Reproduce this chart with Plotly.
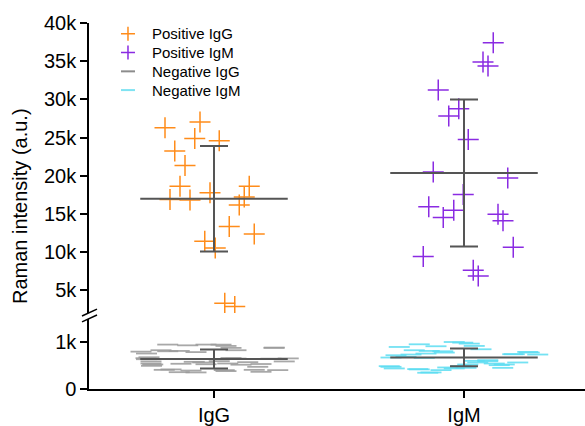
import plotly.graph_objects as go

# ---------------- data ----------------
categories = ["IgG", "IgM"]

pos_igg_vals = [26262, 27040, 24876, 24578, 23230, 21338, 18616, 17748, 18616, 16879,
                16802, 17190, 16154, 13341, 12343, 11397, 10529, 3271, 2844]
pos_igg_jit = [-0.196, -0.056, -0.077, 0.021, -0.157, -0.116, -0.136, -0.016, 0.141, -0.176,
               -0.096, 0.121, 0.101, 0.061, 0.161, -0.037, 0.005, 0.043, 0.083]

pos_igm_vals = [37408, 34894, 34375, 31226, 28764, 27818, 24746, 20469, 19692, 17527,
                15933, 15454, 14508, 14935, 14080, 10620, 9414, 7600, 6861]
pos_igm_jit = [0.117, 0.076, 0.096, -0.103, -0.021, -0.061, 0.017, -0.123, 0.175, -0.003,
               -0.141, -0.041, -0.083, 0.136, 0.156, 0.197, -0.163, 0.037, 0.057]

neg_igg_vals = [951, 935, 951, 922, 887, 880, 950, 880,
                800, 830, 815, 790, 830, 760, 808,
                660, 680, 665, 650, 655, 638, 652,
                590, 582, 596, 575, 590, 546, 568,
                525, 540, 530, 520, 535, 496, 546, 475,
                410, 395, 404, 410, 404, 419, 383, 368, 360, 355]
neg_igg_jit = [-0.185, -0.105, -0.032, 0.048, 0.241, 0.068, 0.028, 0.24,
               -0.292, -0.212, -0.139, -0.072, 0.088, -0.27, -0.185,
               -0.272, -0.26, 0.068, 0.228, 0.297, -0.27, 0.088,
               -0.252, -0.079, 0.021, 0.135, 0.281, 0.055, -0.045,
               -0.245, -0.132, -0.032, 0.108, 0.188, -0.25, -0.252, 0.175,
               -0.199, -0.092, 0.041, 0.161, 0.255, -0.172, 0.048, 0.188, -0.139, -0.072]

neg_igm_vals = [900, 957, 915, 1006, 972, 922, 993,
                830, 815, 808, 851,
                723, 738, 759, 780, 745, 780, 738, 794, 745,
                674, 688, 666,
                475, 440, 419, 355, 404, 440, 453, 348, 426, 489, 461, 489,
                568, 596, 546, 525, 568, 453, 525, 603, 617, 511]
neg_igm_jit = [-0.259, -0.179, -0.112, -0.039, 0.021, 0.041, -0.005,
               -0.199, -0.139, -0.085, 0.068,
               -0.272, -0.212, -0.152, -0.079, 0.201, 0.261, 0.295, 0.255, 0.195,
               -0.292, -0.232, -0.159,
               -0.292, -0.279, -0.179, -0.132, -0.092, -0.039, 0.008, -0.145, -0.185, -0.299, -0.065, -0.012,
               0.055, 0.095, 0.121, 0.161, 0.215, 0.155, 0.015, 0.041, 0.095, 0.141]

# mean and SD per group
pos_mean = [16970, 20340]
pos_sd = [6908, 9630]
neg_mean = [642, 677]
neg_sd = [202, 190]

top_ticks = [5000, 10000, 15000, 20000, 25000, 30000, 35000, 40000]
top_tick_text = ["5k", "10k", "15k", "20k", "25k", "30k", "35k", "40k"]
bot_ticks = [0, 1000]
bot_tick_text = ["0", "1k"]

legend_names = ["Positive IgG", "Positive IgM", "Negative IgG", "Negative IgM"]

# ---------------- styles ----------------
C_ORANGE = "#FF8C1A"
C_PURPLE = "#8A2BE2"
C_GRAY = "#9A9A9A"
C_CYAN = "#5CDDF2"
C_BAR = "#555555"
FONT = "Liberation Sans, Arial, sans-serif"

fig = go.Figure()


def pos_trace(ci, vals, jit, color, name):
    return go.Scatter(
        x=[ci + j for j in jit], y=vals, xaxis="x", yaxis="y",
        mode="markers", name=name, showlegend=False,
        marker=dict(symbol="cross-thin", size=15, color=color,
                    line=dict(color=color, width=1.5)),
    )


def neg_trace(ci, vals, jit, color, name):
    return go.Scatter(
        x=[ci + j for j in jit], y=vals, xaxis="x", yaxis="y2",
        mode="markers", name=name, showlegend=False,
        marker=dict(symbol="line-ew", size=15, color=color, opacity=0.85,
                    line=dict(color=color, width=1.8)),
    )


fig.add_trace(pos_trace(0, pos_igg_vals, pos_igg_jit, C_ORANGE, legend_names[0]))
fig.add_trace(pos_trace(1, pos_igm_vals, pos_igm_jit, C_PURPLE, legend_names[1]))
fig.add_trace(neg_trace(0, neg_igg_vals, neg_igg_jit, C_GRAY, legend_names[2]))
fig.add_trace(neg_trace(1, neg_igm_vals, neg_igm_jit, C_CYAN, legend_names[3]))

HALF = 0.295
for yax, means, sds in (("y", pos_mean, pos_sd), ("y2", neg_mean, neg_sd)):
    for ci, (m, s) in enumerate(zip(means, sds)):
        fig.add_trace(go.Scatter(
            x=[ci - HALF, ci + HALF], y=[m, m], xaxis="x", yaxis=yax,
            mode="lines", line=dict(color=C_BAR, width=2), showlegend=False,
            hoverinfo="skip"))
        fig.add_trace(go.Scatter(
            x=[ci], y=[m], xaxis="x", yaxis=yax, mode="markers",
            marker=dict(size=1, opacity=0), showlegend=False, hoverinfo="skip",
            error_y=dict(type="data", array=[s], symmetric=True, width=14,
                         thickness=2, color=C_BAR)))

TOP_DOM = [0.2075, 1.0]
BOT_DOM = [0.0, 0.1914]

axis_common = dict(showline=True, linecolor="black", linewidth=1.5, ticks="outside",
                   ticklen=7, tickwidth=1.5, tickcolor="black", showgrid=False,
                   zeroline=False, tickfont=dict(size=20, color="black", family=FONT))

fig.update_layout(
    width=585, height=426,
    margin=dict(l=89, r=0, t=23, b=32),
    paper_bgcolor="white", plot_bgcolor="white",
    font=dict(family=FONT, color="black"),
    showlegend=False,
    xaxis=dict(range=[-0.5, 1.484], tickvals=[0, 1], ticktext=categories,
               anchor="y2", **axis_common),
    yaxis=dict(domain=TOP_DOM, range=[2000, 40000], tickvals=top_ticks,
               ticktext=top_tick_text, anchor="x", **axis_common),
    yaxis2=dict(domain=BOT_DOM, range=[0, 1500], tickvals=bot_ticks,
                ticktext=bot_tick_text, anchor="x", **axis_common),
)

# broken-axis marks
for y0, y1 in ((0.1995, 0.2183), (0.1833, 0.2022)):
    fig.add_shape(type="line", xref="paper", yref="paper",
                  x0=-0.0141, x1=0.0161, y0=y0, y1=y1,
                  line=dict(color="black", width=1.5))

# manual legend (tighter row spacing than plotly's built-in legend)
legend_rows = [0.9704, 0.9191, 0.8679, 0.8167]
legend_keys = [("M -7,0 H 7 M 0,-7 V 7", C_ORANGE, 1.5),
               ("M -7,0 H 7 M 0,-7 V 7", C_PURPLE, 1.5),
               ("M -7,0 H 7", "#8C8C8C", 2),
               ("M -7,0 H 7", "#7FE3F2", 2)]
for name, yr, (path, col, w) in zip(legend_names, legend_rows, legend_keys):
    fig.add_shape(type="path", xref="paper", yref="paper",
                  xsizemode="pixel", ysizemode="pixel",
                  xanchor=0.0786, yanchor=yr, path=path,
                  line=dict(color=col, width=w))
    fig.add_annotation(text=name, xref="paper", yref="paper", x=0.123, y=yr,
                       xanchor="left", yanchor="middle", showarrow=False,
                       font=dict(size=15, family=FONT, color="black"))

fig.add_annotation(text="Raman intensity (a.u.)", xref="paper", yref="paper",
                   x=-0.139, y=0.5, xanchor="center", yanchor="middle",
                   textangle=-90, showarrow=False,
                   font=dict(size=20, family=FONT, color="black"))

# remove the default page margin so the figure sits exactly in the window
fig.write_html("out.html",
               config={"displayModeBar": False},
               post_script="document.body.style.margin='0';"
                           "document.body.style.overflow='hidden';")
